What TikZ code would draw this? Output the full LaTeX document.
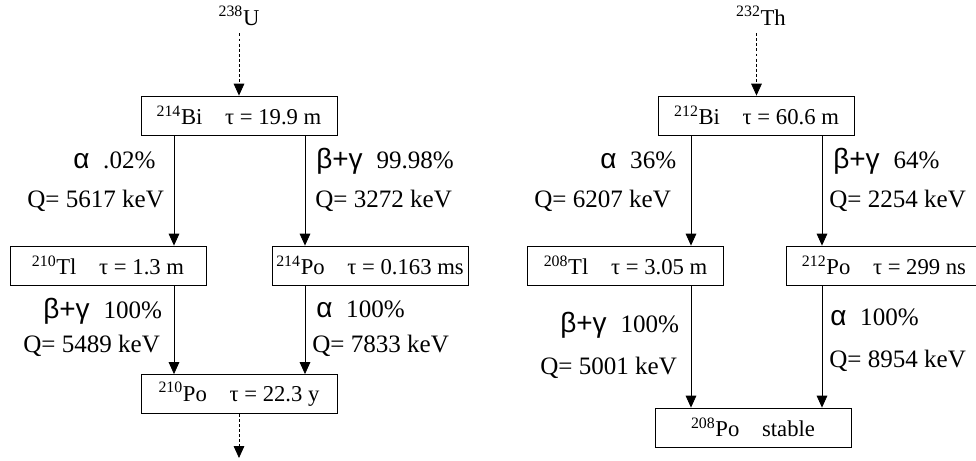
\documentclass[tikz,border=0pt]{standalone}
\usepackage{fontspec}
\setmainfont{Liberation Serif}
\newfontfamily\symfont{Liberation Sans}
\newcommand{\gr}[1]{{\symfont\fontsize{21}{22}\selectfont #1}\hspace{0.55em}}
\usetikzlibrary{arrows.meta}

\begin{document}
\begin{tikzpicture}[x=0.75pt,y=0.75pt,yscale=-1,xscale=1,
  nucl/.style={draw,line width=0.6pt,minimum width=147pt,minimum height=29.25pt,inner sep=0pt,font=\fontsize{17}{19}\selectfont},
  decay/.style={line width=0.6pt,-{Triangle[length=9pt,width=8pt]}},
  chain/.style={decay,dash pattern=on 2.2pt off 1.6pt},
  lbl/.style={anchor=base west,inner sep=0pt,font=\fontsize{18.8}{20}\selectfont},
  parent/.style={anchor=base,inner sep=0pt,font=\fontsize{17}{19}\selectfont}]
\useasboundingbox (0,0) rectangle (976,461);
%% uranium chain
% Text Node
\node[parent] (u238) at (239,25) {\textsuperscript{238}U};
% Boxes
\node[nucl] (bi214) at (239,115.5) {\textsuperscript{214}Bi\quad τ = 19.9 m};
\node[nucl] (tl210) at (108,265.5) {\textsuperscript{210}Tl\quad τ = 1.3 m};
\node[nucl] (po214) at (370,265.5) {\textsuperscript{214}Po\quad τ = 0.163 ms};
\node[nucl] (po210) at (239,394) {\textsuperscript{210}Po\quad τ = 22.3 y};
\coordinate (c1) at (174,0);
\coordinate (c2) at (305,0);
\coordinate (po210end) at (239,458);
% Arrows
\draw[chain] (u238.south) [shorten <=6pt] -- (bi214.north);
\draw[decay] (bi214.south -| c1) -- (tl210.north -| c1);
\draw[decay] (bi214.south -| c2) -- (po214.north -| c2);
\draw[decay] (tl210.south -| c1) -- (po210.north -| c1);
\draw[decay] (po214.south -| c2) -- (po210.north -| c2);
\draw[chain] (po210.south) -- (po210end);
% Labels
\node[lbl] (l1) at (73,168) {\gr{α}.02\%};
\node[lbl] (l2) at (27,207) {Q= 5617 keV};
\node[lbl] (l3) at (316,168) {\gr{β+γ}99.98\%};
\node[lbl] (l4) at (315,207) {Q= 3272 keV};
\node[lbl] (l5) at (43,318) {\gr{β+γ}100\%};
\node[lbl] (l6) at (23,352) {Q= 5489 keV};
\node[lbl] (l7) at (316,317) {\gr{α}100\%};
\node[lbl] (l8) at (312,352) {Q= 7833 keV};
%% thorium chain
% Text Node
\node[parent] (th232) at (761,25) {\textsuperscript{232}Th};
% Boxes
\node[nucl] (bi212) at (756.5,115.5) {\textsuperscript{212}Bi\quad τ = 60.6 m};
\node[nucl] (tl208) at (625.5,265.5) {\textsuperscript{208}Tl\quad τ = 3.05 m};
\node[nucl] (po212) at (884,265.5) {\textsuperscript{212}Po\quad τ = 299 ns};
\node[nucl] (po208) at (753,427.5) {\textsuperscript{208}Po\quad stable};
\coordinate (c3) at (691,0);
\coordinate (c4) at (822,0);
% Arrows
\draw[chain] (th232.south -| bi212.north) [shorten <=6pt] -- (bi212.north);
\draw[decay] (bi212.south -| c3) -- (tl208.north -| c3);
\draw[decay] (bi212.south -| c4) -- (po212.north -| c4);
\draw[decay] (tl208.south -| c3) -- (po208.north -| c3);
\draw[decay] (po212.south -| c4) -- (po208.north -| c4);
% Labels
\node[lbl] (r1) at (600,168) {\gr{α}36\%};
\node[lbl] (r2) at (534,207) {Q= 6207 keV};
\node[lbl] (r3) at (833,168) {\gr{β+γ}64\%};
\node[lbl] (r4) at (829,207) {Q= 2254 keV};
\node[lbl] (r5) at (560,332) {\gr{β+γ}100\%};
\node[lbl] (r6) at (540,374) {Q= 5001 keV};
\node[lbl] (r7) at (830,325) {\gr{α}100\%};
\node[lbl] (r8) at (829,367) {Q= 8954 keV};
\end{tikzpicture}
\end{document}
